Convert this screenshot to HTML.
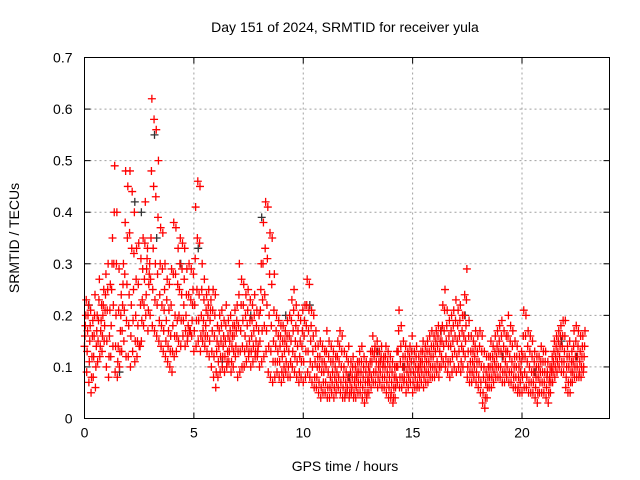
<!DOCTYPE html>
<html><head><meta charset="utf-8"><style>
html,body{margin:0;padding:0;background:#fff}
svg{display:block;font-family:"Liberation Sans",sans-serif}
</style></head><body>
<svg id="chart" width="640" height="480" viewBox="0 0 640 480" xmlns="http://www.w3.org/2000/svg">
<rect width="640" height="480" fill="#fff"/>
<text x="345" y="32" font-size="14" text-anchor="middle">Day 151 of 2024, SRMTID for receiver yula</text>
<text x="345" y="471" font-size="14" text-anchor="middle">GPS time / hours</text>
<text x="19" y="238" font-size="14" text-anchor="middle" transform="rotate(-90 19 238)">SRMTID / TECUs</text>
<g id="grid"></g>
<g id="ticks"></g>
<g id="marks"></g>
<rect x="84.5" y="57.5" width="525" height="361" fill="none" stroke="#000" stroke-width="1"/>
</svg>
<script>
const xTicks=[0,5,10,15,20];
const yTicks=[0,0.1,0.2,0.3,0.4,0.5,0.6,0.7];
const yTickLabels=["0","0.1","0.2","0.3","0.4","0.5","0.6","0.7"];
const startHour=0, stepHour=0.1;
const seriesHigh=[23,22,21,19,24,20,27,22,25,28,30,26,35,49,40,29,24,30,48,45,48,44,40,33,34,31,35,42,33,30,62,58,56,50,37,36,30,27,26,29,38,37,33,35,34,33,29,30,29,28,41,46,45,30,27,24,25,23,25,24,18,20,21,19,22,19,20,18,21,22,30,27,26,24,25,23,22,24,21,20,30,38,42,41,36,35,28,20,19,18,18,17,19,20,23,25,22,20,19,21,22,27,26,21,20,17,14,15,14,13,17,15,14,13,12,15,17,16,13,12,14,11,12,10,11,13,14,12,11,10,13,16,14,15,13,14,12,14,13,12,11,10,13,21,18,15,14,13,14,16,13,14,12,13,15,14,15,16,17,16,17,18,17,22,25,21,19,20,21,23,21,22,20,24,29,19,16,15,17,16,17,16,13,12,12,15,14,16,17,18,19,17,16,20,18,17,15,14,12,13,21,20,17,16,15,13,12,12,14,13,13,11,10,12,15,16,17,18,19,19,14,15,13,17,18,17,16,16,17];
const seriesUpper=[20,20,18,16,20,17,23,19,22,24,25,21,30,40,30,21,20,26,38,35,36,33,32,27,26,22,29,34,31,28,48,45,43,39,30,29,25,23,21,22,28,28,26,30,29,27,24,24,23,25,31,35,34,25,23,21,22,21,21,20,15,17,18,16,18,16,17,16,18,19,24,22,22,20,21,19,19,20,18,17,25,30,33,31,28,26,21,17,16,16,15,15,16,16,19,21,18,17,15,17,19,22,21,18,16,14,12,12,11,11,13,12,11,11,10,12,14,13,10,9,11,9,10,8,9,11,11,10,9,8,11,13,13,13,11,12,11,12,11,10,9,8,10,17,14,12,12,11,12,13,11,12,10,11,13,12,13,13,14,14,15,16,15,18,21,18,16,17,18,19,18,19,17,20,23,16,13,13,14,13,14,13,10,9,10,12,12,13,14,15,16,14,13,16,15,14,12,12,10,11,16,16,14,13,12,11,10,10,11,11,11,9,8,10,13,14,15,16,16,16,12,12,11,14,15,14,13,14,14];
const seriesMid=[18,17,15,12,16,14,19,17,20,21,21,16,25,30,20,14,17,22,28,26,24,22,25,20,18,14,23,27,29,26,35,33,30,28,24,22,21,19,17,16,18,20,19,25,24,22,20,18,17,22,22,25,24,20,19,18,20,19,17,16,13,14,15,14,15,13,15,14,16,17,18,17,19,16,18,15,16,17,15,14,21,23,24,22,20,18,15,14,13,14,12,13,14,13,15,17,15,14,12,14,16,18,17,15,13,11,10,10,9,9,10,9,8,9,8,9,11,10,8,7,8,7,8,7,8,9,9,8,7,7,9,11,12,11,10,11,10,10,9,8,7,6,8,13,11,10,10,9,10,11,9,10,9,10,11,10,11,11,12,12,13,14,13,15,17,15,14,14,15,16,15,16,14,16,18,13,11,11,12,11,11,10,8,7,8,10,10,11,12,13,13,12,11,13,12,11,10,10,8,9,12,12,11,10,9,9,8,8,9,9,9,8,7,9,11,12,13,14,14,13,10,10,9,11,12,12,11,12,12];
const seriesLower=[16,13,11,8,12,10,15,14,16,18,15,12,18,22,14,11,13,17,21,19,18,16,19,15,15,14,19,22,24,21,27,25,23,22,19,18,17,15,14,13,13,16,16,20,19,19,17,16,17,19,17,19,19,16,17,16,16,15,13,12,9,11,12,12,12,11,13,11,13,14,13,13,14,13,14,13,13,14,13,13,15,17,18,17,14,13,11,11,11,11,9,10,11,10,11,13,12,11,9,11,11,13,13,11,10,8,8,7,6,7,7,6,6,7,6,7,8,7,6,5,6,5,6,5,6,7,7,6,5,5,7,8,9,9,8,9,8,8,7,6,5,4,6,10,8,8,8,7,8,9,7,8,7,8,9,8,9,9,10,10,10,11,10,12,14,12,11,11,12,13,12,13,11,13,15,10,9,9,10,9,8,7,5,4,6,8,8,9,10,10,10,9,9,10,9,9,8,8,6,7,8,9,8,7,7,7,6,5,7,7,7,6,5,7,9,10,11,12,11,11,8,7,7,9,10,10,9,10,10];
const seriesLow=[14,9,7,5,8,6,11,12,13,15,10,8,12,14,9,8,10,13,15,12,12,10,13,11,12,14,15,18,20,17,20,18,17,16,15,14,13,12,11,10,9,12,13,15,14,16,14,15,17,16,13,14,15,13,15,14,13,12,10,8,6,8,9,10,9,10,11,9,10,12,8,9,10,10,11,12,10,11,12,12,10,11,12,13,9,8,7,8,9,8,7,8,9,8,8,10,9,8,7,8,7,8,9,8,7,6,6,5,4,5,5,4,4,5,4,5,6,5,4,4,5,4,5,4,4,5,5,4,3,4,5,6,7,7,6,7,6,6,5,4,4,3,4,7,6,6,7,5,6,7,5,6,6,6,7,6,7,7,8,8,8,9,8,10,11,10,9,8,9,10,9,10,9,10,12,8,7,7,8,7,6,5,3,2,4,6,6,7,8,8,8,7,7,8,7,7,6,6,5,5,5,6,6,5,5,5,4,3,5,5,5,4,3,5,7,8,9,10,9,9,6,5,5,7,8,8,8,8,9];
const grayHours=[0.2,1.6,2.3,2.6,3.2,3.3,4.4,5.2,6.3,7.6,8.1,9.2,10.3,12.1,13.4,14.6,16.3,17.4,19.1,20.6,21.8,22.5];
const grayValues=[0.22,0.09,0.42,0.4,0.55,0.35,0.3,0.33,0.11,0.2,0.39,0.2,0.22,0.08,0.13,0.1,0.17,0.2,0.12,0.09,0.15,0.12];

const X0=84.5,X1=609.5,Y0=418.5,Y1=57.5,XMAX=24,YMAX=0.7;
const xScale=h=>X0+(X1-X0)*h/XMAX;
const yScale=v=>Y0-(Y0-Y1)*v/YMAX;
const NS="http://www.w3.org/2000/svg";
const grid=document.getElementById('grid'),ticks=document.getElementById('ticks'),marks=document.getElementById('marks');
function mk(tag,attrs,parent){const e=document.createElementNS(NS,tag);for(const k in attrs)e.setAttribute(k,attrs[k]);parent.appendChild(e);return e;}
xTicks.forEach(t=>{
  const x=xScale(t);
  if(t>0){const g=mk('line',{x1:x,x2:x,y1:Y1,y2:Y0,stroke:'#a0a0a0','stroke-dasharray':'2,3'},grid);
  
  }
  mk('line',{x1:x,x2:x,y1:Y0,y2:Y0-6,stroke:'#000'},ticks);
  mk('line',{x1:x,x2:x,y1:Y1,y2:Y1+6,stroke:'#000'},ticks);
  const lb=mk('text',{x:x,y:Y0+19,'font-size':'14','text-anchor':'middle'},ticks);
  lb.textContent=String(t);
  
  
});
yTicks.forEach((t,i)=>{
  const y=yScale(t);
  if(t>0&&t<YMAX){const g=mk('line',{x1:X0,x2:X1,y1:y,y2:y,stroke:'#a0a0a0','stroke-dasharray':'2,3'},grid);
  
  }
  mk('line',{x1:X0,x2:X0+6,y1:y,y2:y,stroke:'#000'},ticks);
  mk('line',{x1:X1,x2:X1-6,y1:y,y2:y,stroke:'#000'},ticks);
  const lb=mk('text',{x:X0-12,y:y+5,'font-size':'14','text-anchor':'end'},ticks);
  lb.textContent=yTickLabels[i];
  
  
});
function plus(h,v,color,name){
  const x=xScale(h),y=yScale(v);
  const p=mk('path',{d:`M${x-4},${y}H${x+4}M${x},${y-4}V${y+4}`,stroke:color,'stroke-width':'1.3',fill:'none'},marks);
  
  
}
grayHours.forEach((h,i)=>plus(h,grayValues[i],'#333','gray-point'));
[[seriesLow,0],[seriesLower,0.02],[seriesMid,0.04],[seriesUpper,0.06],[seriesHigh,0.08]].forEach(([arr,off])=>{
  arr.forEach((v,i)=>plus(startHour+i*stepHour+off,v/100,'#ff0000','srmtid-point'));
});
</script>
</body></html>
